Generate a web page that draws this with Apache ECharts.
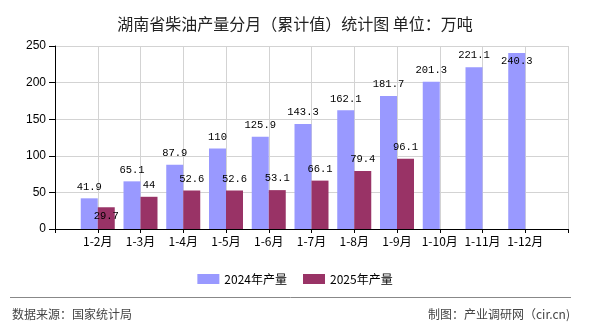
<!DOCTYPE html>
<html>
<head>
<meta charset="utf-8">
<script src="https://cdn.jsdelivr.net/npm/echarts@6/dist/echarts.min.js"></script>
<style>
html,body{margin:0;padding:0;background:#fff;}
#c{width:590px;height:330px;}
</style>
</head>
<body>
<div id="c"></div>
<script>
const months = ['1-2月','1-3月','1-4月','1-5月','1-6月','1-7月','1-8月','1-9月','1-10月','1-11月','1-12月'];
const values2024 = [41.9, 65.1, 87.9, 110, 125.9, 143.3, 162.1, 181.7, 201.3, 221.1, 240.3];
const values2025 = [29.7, 44, 52.6, 52.6, 53.1, 66.1, 79.4, 96.1];
const yTicks = [0, 50, 100, 150, 200, 250];
const seriesNames = ['2024年产量', '2025年产量'];

const cats = [''].concat(months).concat(['']);
function pad(arr){
  const out = ['-'];
  for (let i = 0; i < months.length; i++) out.push(i < arr.length ? arr[i] : '-');
  out.push('-');
  return out;
}
// labels that sit lower in the reference (shift down)
function withShift(data, shiftIdx){
  return data.map((v, i) => (shiftIdx.indexOf(i) >= 0 && v !== '-') ? {value: v, label: {offset: [0, 20]}} : v);
}
const d24 = withShift(pad(values2024), [11]);
const d25 = withShift(pad(values2025), [1]);

const labelStyle = {
  show: true, position: 'top', distance: 6,
  fontFamily: 'Liberation Mono', fontSize: 10.5, color: '#000'
};

const chart = echarts.init(document.getElementById('c'), null, {renderer: 'canvas'});
chart.setOption({
  animation: false,
  backgroundColor: '#fff',
  title: {
    text: '湖南省柴油产量分月（累计值）统计图 单位：万吨',
    left: 'center', top: 11,
    textStyle: {fontFamily: 'Noto Sans CJK SC', fontSize: 16, fontWeight: 'normal', color: '#222'}
  },
  legend: {
    data: seriesNames,
    top: 268, left: 'center',
    itemWidth: 22, itemHeight: 10, itemGap: 16,
    icon: 'rect',
    textStyle: {fontFamily: 'Noto Sans CJK SC', fontSize: 12, color: '#000'}
  },
  grid: {left: 55, right: 22, top: 46, bottom: 101, containLabel: false},
  xAxis: {
    type: 'category', data: cats, boundaryGap: false,
    axisLine: {show: true, lineStyle: {color: '#000', width: 1}},
    axisTick: {show: true, length: 4, interval: 0, lineStyle: {color: '#000'}},
    axisLabel: {interval: 0, margin: 6, fontFamily: 'Noto Sans CJK SC', fontSize: 12, color: '#000'},
    splitLine: {show: true, interval: 0, lineStyle: {color: '#d3d3d3', width: 1}}
  },
  yAxis: {
    type: 'value', min: yTicks[0], max: yTicks[yTicks.length-1], interval: 50,
    axisLine: {show: true, lineStyle: {color: '#000', width: 1}},
    axisTick: {show: true, length: 6, lineStyle: {color: '#000'}},
    axisLabel: {margin: 9, fontFamily: 'Liberation Sans', fontSize: 12, color: '#000'},
    splitLine: {show: true, lineStyle: {color: '#d3d3d3', width: 1}}
  },
  series: [
    {name: seriesNames[0], type: 'bar', data: d24, barWidth: 17, barGap: '0%',
     itemStyle: {color: '#9999FF'}, label: labelStyle},
    {name: seriesNames[1], type: 'bar', data: d25, barWidth: 17, barGap: '0%',
     itemStyle: {color: '#993366'}, label: labelStyle}
  ],
  graphic: [
    {type: 'line', shape: {x1: 10, y1: 297.5, x2: 571, y2: 297.5}, style: {stroke: '#888', lineWidth: 1}},
    {type: 'text', left: 12, top: 308, style: {text: '数据来源：国家统计局', font: '12px "Noto Sans CJK SC"', fill: '#444'}},
    {type: 'text', right: 20, top: 308, style: {text: '制图：产业调研网（cir.cn)', font: '12px "Noto Sans CJK SC"', fill: '#444'}}
  ]
});
</script>
</body>
</html>
